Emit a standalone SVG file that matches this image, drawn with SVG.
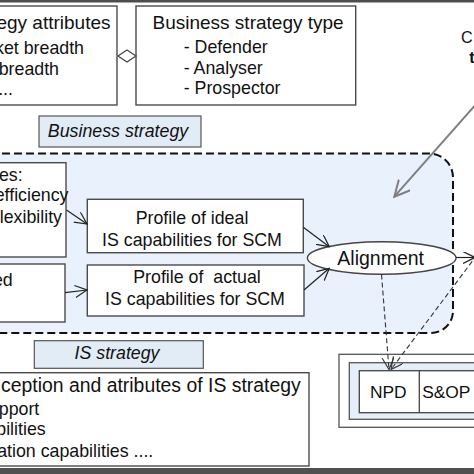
<svg xmlns="http://www.w3.org/2000/svg" width="474" height="474" viewBox="0 0 474 474">
<defs>
<style>
text{font-family:"Liberation Sans",Arial,sans-serif;fill:#111}
.h{font-size:19px}
.b{font-size:17.8px}
.it{font-style:italic;font-size:17.8px}
.box{fill:#fff;stroke:#4a4a4a;stroke-width:1.4}
.lbl{fill:#e2ecf7;stroke:#555;stroke-width:1.2}
.con{fill:none;stroke:#222;stroke-width:1.2}
.dash{fill:none;stroke:#333;stroke-width:1.1;stroke-dasharray:5 3}
</style>
<marker id="ah" markerUnits="userSpaceOnUse" markerWidth="14" markerHeight="14" refX="12" refY="6" orient="auto">
<path d="M0,0 L12,6 L0,12" fill="none" stroke="#222" stroke-width="1.2"/>
</marker>
<marker id="ahd" markerUnits="userSpaceOnUse" markerWidth="14" markerHeight="14" refX="12" refY="6" orient="auto">
<path d="M0,0 L12,6 L0,12" fill="none" stroke="#333" stroke-width="1.1"/>
</marker>
<marker id="ahg" markerUnits="userSpaceOnUse" markerWidth="18" markerHeight="18" refX="16" refY="8" orient="auto">
<path d="M0,0 L16,8 L0,16" fill="none" stroke="#7f7f7f" stroke-width="2"/>
</marker>
</defs>
<rect x="0" y="0" width="474" height="474" fill="#fff"/>
<rect x="0" y="0" width="474" height="2.5" fill="#4d4d4d"/>
<rect x="0" y="468" width="474" height="6" fill="#505050"/>

<g id="region">
<path d="M-10,153.5 H429 A24,24 0 0 1 453,177.5 V311 A22,22 0 0 1 431,333 H-10 Z" fill="#e9f2fc" stroke="#111" stroke-width="2" stroke-dasharray="8 4"/>
</g>

<g id="strategy-attributes">
<rect class="box" x="-10" y="6" width="127" height="99"/>
<text class="h" x="110.5" y="29.3" text-anchor="end">egy attributes</text>
<text class="b" x="84" y="54" text-anchor="end">ket breadth</text>
<text class="b" x="59" y="75" text-anchor="end">breadth</text>
<text class="b" x="13" y="95" text-anchor="end">...</text>
</g>

<g id="strategy-type">
<rect class="box" x="136" y="6" width="219.7" height="99"/>
<text class="h" x="152.5" y="29.3">Business strategy type</text>
<text class="b" x="183.7" y="52.5">- Defender</text>
<text class="b" x="183.7" y="73.5">- Analyser</text>
<text class="b" x="183.7" y="94">- Prospector</text>
</g>

<g id="business-strategy-label">
<rect class="lbl" x="39" y="116" width="162" height="31"/>
<text class="it" x="118" y="136.5" text-anchor="middle">Business strategy</text>
</g>

<g id="objectives">
<rect class="box" x="-10" y="162.7" width="76" height="94.3"/>
<text class="b" x="22.7" y="180.7" text-anchor="end">es:</text>
<text class="b" x="68.5" y="200.5" text-anchor="end">efficiency</text>
<text class="b" x="62" y="222.7" text-anchor="end">lexibility</text>
</g>

<g id="perceived">
<rect class="box" x="-10" y="264" width="75" height="58"/>
<text class="b" x="12.7" y="285.7" text-anchor="end">ed</text>
</g>

<g id="ideal-profile">
<rect class="box" x="87.3" y="199.3" width="216" height="53.4"/>
<text class="b" x="192" y="224" text-anchor="middle">Profile of ideal</text>
<text class="b" x="192" y="245.5" text-anchor="middle">IS capabilities for SCM</text>
</g>

<g id="actual-profile">
<rect class="box" x="87.3" y="265" width="216.7" height="51"/>
<text class="b" x="197" y="283" text-anchor="middle" xml:space="preserve">Profile of  actual</text>
<text class="b" x="195" y="304.5" text-anchor="middle">IS capabilities for SCM</text>
</g>

<g id="alignment">
<ellipse cx="381.7" cy="258" rx="74.3" ry="16.2" fill="#fff" stroke="#444" stroke-width="1.4"/>
<text x="380.7" y="264.5" text-anchor="middle" style="font-size:19.5px">Alignment</text>
</g>

<g id="is-strategy-label">
<rect class="lbl" x="34.3" y="340.7" width="169" height="27.6"/>
<text class="it" x="117" y="358.5" text-anchor="middle">IS strategy</text>
</g>

<g id="is-strategy">
<rect class="box" x="-10" y="372.7" width="319" height="93.3"/>
<text x="300.7" y="391.7" text-anchor="end" style="font-size:19.4px">ception and atributes of IS strategy</text>
<text class="b" x="39.3" y="414.5" text-anchor="end">pport</text>
<text class="b" x="45.7" y="435" text-anchor="end">bilities</text>
<text class="b" x="153.3" y="456.7" text-anchor="end">ation capabilities ....</text>
</g>

<g id="processes">
<rect x="339" y="354.3" width="150" height="73" fill="#fff" stroke="#555" stroke-width="1.3"/>
<rect x="349.3" y="362.7" width="140" height="56.6" fill="#e6eff9" stroke="#555" stroke-width="1.3"/>
<rect x="359.3" y="370.7" width="130" height="42" fill="#fff" stroke="#444" stroke-width="1.3"/>
<line x1="419.3" y1="370.7" x2="419.3" y2="412.7" stroke="#444" stroke-width="1.3"/>
<text x="388.3" y="397.7" text-anchor="middle" style="font-size:17.4px">NPD</text>
<text x="446.3" y="397.7" text-anchor="middle" style="font-size:17.4px">S&amp;OP</text>
</g>

<g id="contingency">
<text x="461" y="43.3" style="font-size:16.2px">C</text>
<text x="469.3" y="63.3" style="font-size:16.2px;font-weight:bold">t</text>
</g>

<g id="connectors">
<path d="M127,50 L136,56 L127,62 L118,56 Z" fill="#fff" stroke="#444" stroke-width="1.2"/>
<line class="con" x1="66.5" y1="210" x2="87" y2="224" marker-end="url(#ah)"/>
<line class="con" x1="65" y1="292.7" x2="87" y2="290" marker-end="url(#ah)"/>
<line class="con" x1="303.3" y1="227.3" x2="329.3" y2="246.7" marker-end="url(#ah)"/>
<line class="con" x1="304" y1="290" x2="329.3" y2="268.3" marker-end="url(#ah)"/>
<line class="con" x1="456" y1="257.5" x2="475" y2="257.5" marker-end="url(#ah)"/>
<line x1="477" y1="103" x2="394.3" y2="196.7" stroke="#7f7f7f" stroke-width="2" marker-end="url(#ahg)"/>
<line class="dash" x1="381.5" y1="274.5" x2="389" y2="369.5" marker-end="url(#ahd)"/>
<line class="dash" x1="477" y1="255" x2="391" y2="369.5" marker-end="url(#ahd)"/>
</g>
</svg>
